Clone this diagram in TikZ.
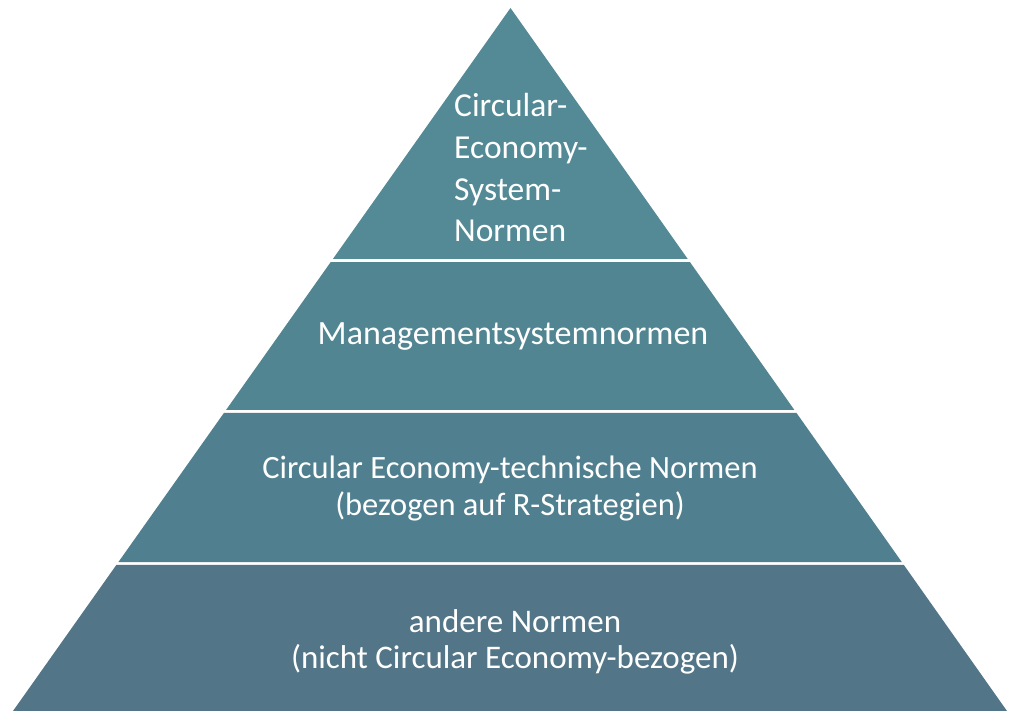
\documentclass[tikz,border=0pt]{standalone}
\usepackage{fontspec}
\setmainfont{Carlito}
\usetikzlibrary{calc}
\definecolor{bandA}{HTML}{538A96}
\definecolor{bandB}{HTML}{518591}
\definecolor{bandC}{HTML}{50808F}
\definecolor{bandD}{HTML}{527587}
\tikzset{
  band/.style={draw=none},
  label/.style={text=white, inner sep=0pt},
}
\begin{document}
\begin{tikzpicture}[x=1pt,y=-1pt]
\useasboundingbox (0,0) rectangle (1018,711);
\coordinate (A) at (510.5,8);
\coordinate (L) at (13,711);
\coordinate (R) at (1007,711);
% band 1 (top)
\fill[band,bandA] (A) -- ($(A)!0.35704!(R)$) -- ($(A)!0.35704!(L)$) -- cycle;
% band 2
\fill[band,bandB] ($(A)!0.36131!(L)$) -- ($(A)!0.36131!(R)$) -- ($(A)!0.57183!(R)$) -- ($(A)!0.57183!(L)$) -- cycle;
% band 3
\fill[band,bandC] ($(A)!0.57610!(L)$) -- ($(A)!0.57610!(R)$) -- ($(A)!0.78805!(R)$) -- ($(A)!0.78805!(L)$) -- cycle;
% band 4
\fill[band,bandD] ($(A)!0.79232!(L)$) -- ($(A)!0.79232!(R)$) -- (R) -- (L) -- cycle;
% labels
\node[label, align=left, anchor=base west, font=\fontsize{33.5}{41.7}\selectfont] (t1) at (454,242) {Circular-\\Economy-\\System-\\Normen};
\node[label, anchor=base, font=\fontsize{34}{40}\selectfont] (t2) at (513,345) {Managementsystemnormen};
\node[label, align=center, anchor=base, font=\fontsize{32.5}{37}\selectfont] (t3) at (510,515) {Circular Economy-technische Normen\\(bezogen auf R-Strategien)};
\node[label, align=center, anchor=base, font=\fontsize{33}{36}\selectfont] (t4) at (515,668) {andere Normen\\(nicht Circular Economy-bezogen)};
\end{tikzpicture}
\end{document}
